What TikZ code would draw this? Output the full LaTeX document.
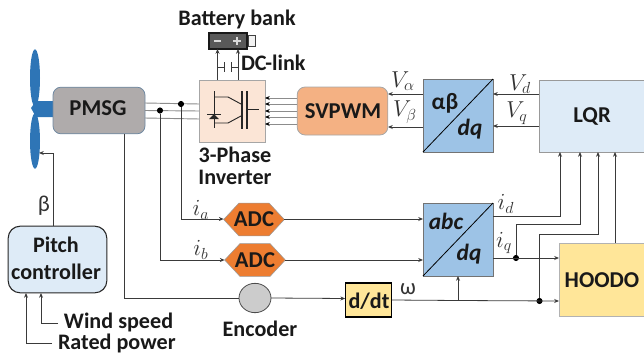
\documentclass[tikz,border=0pt]{standalone}
\usepackage{fontspec}
\setmainfont{Carlito}
\usetikzlibrary{arrows.meta,shapes.geometric,calc}
\definecolor{wire}{HTML}{3A3A3A}
\definecolor{bladeblue}{HTML}{2E75B6}
\definecolor{lightblue}{HTML}{DEEBF7}
\definecolor{midblue}{HTML}{9DC3E6}
\definecolor{yel}{HTML}{FFE699}
\definecolor{org}{HTML}{ED7D31}
\definecolor{peach}{HTML}{F4B183}
\definecolor{paleorg}{HTML}{FBE5D6}
\definecolor{gengray}{HTML}{AFABAB}
\tikzset{
  x=0.75pt,y=-0.75pt,
  every node/.style={inner sep=0pt,outer sep=0pt},
  lab/.style={font=\fontsize{16.6}{18}\selectfont\bfseries,text=black!90},
  big/.style={font=\fontsize{17}{19}\selectfont\bfseries,text=black!90},
  ctl/.style={font=\fontsize{16.6}{19}\selectfont\bfseries,text=black!90},
  conv/.style={font=\fontsize{17.5}{19}\selectfont\bfseries,text=black!90},
  convi/.style={font=\fontsize{17.5}{19}\selectfont\bfseries\itshape,text=black!90},
  mathl/.style={font=\fontsize{17}{19}\selectfont,text=black!80},
  wirel/.style={draw=wire,line width=0.6pt},
  arr/.style={wirel,-{Stealth[length=3.6pt,width=3pt]}},
  dot/.style={circle,fill=black,minimum size=4.6pt},
  hex/.style={regular polygon,regular polygon sides=6},
  blade/.style={ellipse,fill=bladeblue,draw=none},
  igbt/.style={draw=black!85,line width=0.7pt}
}
\begin{document}
\begin{tikzpicture}
\useasboundingbox (0,0) rectangle (644,354);
% turbine
\node[blade,minimum width=7.5pt,minimum height=43pt] (bladeU) at (35,78) {};
\node[blade,minimum width=7.5pt,minimum height=41.5pt] (bladeD) at (35,141) {};
\fill[bladeblue] (31,108) -- (36,101) -- (53,101) -- (53,117) -- (36,117) -- cycle;
% boxes
\node[draw=midblue!70!black,fill=gengray,rounded corners=6pt,line width=0.6pt,minimum width=69pt,minimum height=35pt] (pmsg) at (99,110.5) {};
\node[big] at (98,108) {PMSG};
\node[draw=black!35,fill=paleorg,line width=0.7pt,minimum width=49.5pt,minimum height=46.5pt] (inv) at (232,111) {};
\node[draw=black!35,fill=peach,rounded corners=6pt,line width=0.6pt,minimum width=68pt,minimum height=36pt] (svpwm) at (342.5,111) {};
\node[big] at (343,111) {SVPWM};
\node[draw=black!55,fill=midblue,line width=0.6pt,minimum width=52.5pt,minimum height=54.75pt] (ab) at (458,115.5) {};
\node[draw=black!40,fill=lightblue,line width=0.6pt,minimum width=80pt,minimum height=54pt,anchor=north west] (lqr) at (539,80) {};
\node[big] at (592,116) {LQR};
\node[draw=black!55,fill=midblue,line width=0.6pt,minimum width=52.5pt,minimum height=54.75pt] (abc) at (458,239.5) {};
\node[draw=black!30,fill=yel,line width=0.6pt,minimum width=64pt,minimum height=54.75pt,anchor=north west] (hoodo) at (559,243) {};
\node[big] at (602,280) {HOODO};
\node[draw=black,fill=yel,line width=0.8pt,minimum width=35pt,minimum height=25.5pt] (ddt) at (368.5,300) {};
\node[lab] at (369,301) {d/dt};
\node[hex,draw=black!40,fill=org,line width=0.4pt,minimum size=45.5pt,yscale=0.62] (adca) at (254,219.5) {};
\node[hex,draw=black!40,fill=org,line width=0.4pt,minimum size=45.5pt,yscale=0.62] (adcb) at (255,260) {};
\node[big] at (254,219) {ADC};
\node[big] at (255,260) {ADC};
\node[draw=black!85,fill=lightblue,rounded corners=9pt,line width=0.8pt,minimum width=74pt,minimum height=50pt] (pitch) at (57.5,259.5) {};
\node[ctl] at (56,245) {Pitch};
\node[ctl] at (56,272) {controller};
\node[ellipse,draw=black!70,fill=black!20,line width=0.6pt,minimum width=24pt,minimum height=22pt] (enc) at (255,298) {};
% converter diagonals
\draw[black,line width=0.6pt] (ab.south west) -- (ab.north east);
\draw[black,line width=0.6pt] (abc.south west) -- (abc.north east);
\node[conv] at (445,103) {αβ};
\node[convi] at (470,129) {dq};
\node[convi] at (446,221) {abc};
\node[convi] at (469,254) {dq};
% generator wires
\coordinate (w1s) at (145,103); \coordinate (w1e) at (199,104);
\coordinate (w2s) at (145,110.5); \coordinate (w2e) at (199,111);
\coordinate (w3s) at (145,118); \coordinate (w3e) at (199,119);
\draw[draw=black!45,line width=0.7pt] (w1s) -- (w1e) (w2s) -- (w2e) (w3s) -- (w3e);
\node[dot] (da) at (181,104) {};
\node[dot] (db) at (160,110.5) {};
\draw[arr] (da) -- (181,219) -- (adca.west |- 0,219);
\draw[arr] (db) -- (160,260) -- (adcb.west |- 0,260);
\draw[arr] (adca.east |- 0,219) -- (abc.west |- 0,219);
\draw[arr] (adcb.east |- 0,260) -- (abc.west |- 0,260);
\draw[wirel] (124,134) -- (124,298) -- (enc.west);
\draw[arr] (enc.east) -- (ddt.west |- 0,298.5);
% inverter control
\foreach \y in {98,104,111,117,124}{
  \draw[draw=black!45,line width=0.7pt,-{Stealth[length=3.6pt,width=3pt,black]}] (297,\y) -- (265,\y);
}
% voltage arrows
\draw[arr] (423,94) -- (388,94);
\draw[arr] (423,127) -- (388,127);
\draw[arr] (539,94) -- (493,94);
\draw[arr] (539,126) -- (493,126);
% lqr feedback
\coordinate (Lq1) at (560,152); \coordinate (Lq2) at (580,152); \coordinate (Lq3) at (598,152); \coordinate (Lq4) at (615,152);
\draw[arr] (493,216) -- (560,216) -- (Lq1);
\node[dot] (dq) at (516,258) {};
\draw[arr] (dq) -- (516,224) -- (580,224) -- (Lq2);
\draw[arr] (493,258) -- (hoodo.west |- 0,258);
\node[dot] (dw) at (539.5,301) {};
\draw[arr] (dw) -- (539.5,234) -- (598,234) -- (Lq3);
\draw[arr] (hoodo.north -| 615,0) -- (Lq4);
\draw[arr] (ddt.east) -- (458,300.5) -- (hoodo.west |- 0,301);
\draw[arr] (458,300.5) -- (abc.south);
% pitch
\draw[arr] (53,226) -- (53,153) -- (39,153);
\coordinate (p1) at (41,293); \coordinate (p2) at (26,293);
\draw[arr] (58,323) -- (41,323) -- (p1);
\draw[arr] (52,343) -- (26,343) -- (p2);
% battery
\node[fill=black!65,draw=black!90,line width=0.8pt,minimum width=28.5pt,minimum height=12pt] (batt) at (228,41) {};
\node[fill=black!5,draw=black!75,line width=0.6pt,minimum width=5pt,minimum height=8pt] (term) at (252,41) {};
\draw[white!85!black,line width=0.8pt] (214,41) -- (221,41);
\draw[white!85!black,line width=0.8pt] (233,41) -- (241,41) (237,37) -- (237,45);
\draw[arr] (217.5,80) -- (217.5,49);
\draw[arr] (238,80) -- (238,49);
\draw[wirel] (217.5,67) -- (224,67) (224,62) -- (224,72);
\draw[wirel] (238,67) -- (231,67) (231,62) -- (231,72);
% IGBT
\draw[igbt] (214,91) -- (214,128);
\draw[igbt] (214,97) -- (228,97) -- (241,104);
\draw[igbt] (214,123) -- (228,123) -- (241,116);
\draw[igbt,line width=0.9pt] (242,91) -- (242,129);
\draw[igbt,line width=0.9pt] (247,91) -- (247,129);
\draw[igbt] (247,109) -- (259,109);
\draw[igbt] (207,114) -- (221,114);
\fill[black!85] (214,114) -- (209,119) -- (219,119) -- cycle;
% labels
\node[lab] at (237,19) {Battery bank};
\node[lab,anchor=west] at (241,63) {DC-link};
\node[lab] at (235,155) {3-Phase};
\node[lab] at (235,177) {Inverter};
\node[lab,anchor=west] at (64,322) {Wind speed};
\node[lab,anchor=west] at (58,343) {Rated power};
\node[lab] at (260,329) {Encoder};
\node[mathl] at (403,81) {$V_\alpha$};
\node[mathl] at (405,112) {$V_\beta$};
\node[mathl] at (520,84) {$V_d$};
\node[mathl] at (517,113) {$V_q$};
\node[mathl] at (201,210) {$i_a$};
\node[mathl] at (201,250) {$i_b$};
\node[mathl] at (506,204) {$i_d$};
\node[mathl] at (504,243) {$i_q$};
\node[mathl] at (408,289) {ω};
\node[mathl] at (44,206) {β};
\end{tikzpicture}
\end{document}
